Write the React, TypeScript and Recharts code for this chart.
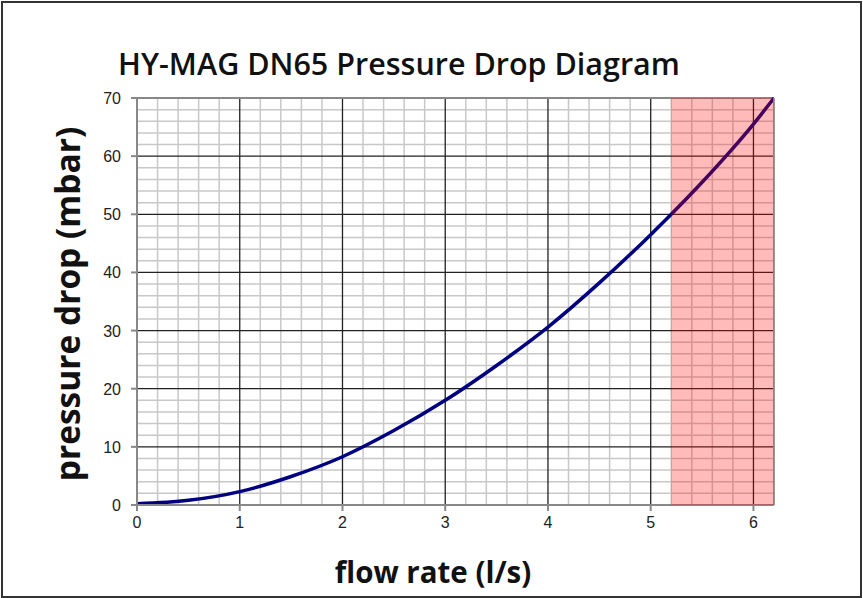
import React from "react";
import {
  LineChart,
  Line,
  XAxis,
  YAxis,
  ReferenceLine,
  ReferenceArea,
} from "recharts";

// flow rate (l/s) and pressure drop (mbar)
const flowRate = [0, 0.5, 1, 1.5, 2, 2.5, 3, 3.5, 4, 4.5, 5, 5.2, 5.5, 6, 6.2];
const pressureDrop = [0.2, 0.8, 2.3, 4.9, 8.3, 12.8, 18.0, 24.0, 30.6, 38.2, 46.5, 50.0, 55.5, 65.5, 70.0];

const xTicks = [0, 1, 2, 3, 4, 5, 6];
const yTicks = [0, 10, 20, 30, 40, 50, 60, 70];
const xMinor = [0.2, 0.4, 0.6, 0.8, 1.2, 1.4, 1.6, 1.8, 2.2, 2.4, 2.6, 2.8, 3.2, 3.4, 3.6, 3.8, 4.2, 4.4, 4.6, 4.8, 5.2, 5.4, 5.6, 5.8, 6.2];
const yMinor = [2, 4, 6, 8, 12, 14, 16, 18, 22, 24, 26, 28, 32, 34, 36, 38, 42, 44, 46, 48, 52, 54, 56, 58, 62, 64, 66, 68];

// recommended maximum range (shaded)
const limitStart = 5.2;
const limitEnd = 6.2;

const data = flowRate.map((q, i) => ({ q, p: pressureDrop[i] }));

const labelFont = "'Open Sans', 'Noto Sans', sans-serif";
const tickFont = "'Liberation Sans', Arial, sans-serif";

const XTick = ({ x, y, payload }: any) => (
  <text x={x} y={y + 17} textAnchor="middle" fontFamily={tickFont} fontSize={16} fill="#222">
    {payload.value}
  </text>
);

const YTick = ({ x, y, payload }: any) => (
  <text x={121} y={y + 6} textAnchor="end" fontFamily={tickFont} fontSize={16} fill="#222">
    {payload.value}
  </text>
);

export default function App() {
  return (
    <div style={{ position: "absolute", left: 0, top: 0, width: 863, height: 598, background: "#fff" }}>
      <div
        style={{
          position: "absolute",
          left: 1,
          top: 1,
          width: 857,
          height: 593,
          border: "2px solid #333",
        }}
      />
      <div
        style={{
          position: "absolute",
          left: 399,
          top: 63,
          transform: "translate(-50%, -50%)",
          whiteSpace: "nowrap",
          fontFamily: labelFont,
          fontWeight: 600,
          fontSize: 30.5,
          color: "#111",
        }}
      >
        HY-MAG DN65 Pressure Drop Diagram
      </div>
      <div
        style={{
          position: "absolute",
          left: 67,
          top: 304,
          transform: "translate(-50%, -50%) rotate(-90deg)",
          whiteSpace: "nowrap",
          fontFamily: labelFont,
          fontWeight: 700,
          fontSize: 33.5,
          color: "#111",
        }}
      >
        pressure drop (mbar)
      </div>
      <div
        style={{
          position: "absolute",
          left: 433,
          top: 571,
          transform: "translate(-50%, -50%)",
          whiteSpace: "nowrap",
          fontFamily: labelFont,
          fontWeight: 700,
          fontSize: 29.5,
          color: "#111",
        }}
      >
        flow rate (l/s)
      </div>
      <div style={{ position: "absolute", left: 0, top: 0 }}>
        <LineChart
          width={863}
          height={598}
          data={data}
          margin={{ top: 98, right: 89, bottom: 63, left: 0 }}
        >
          <XAxis
            dataKey="q"
            type="number"
            domain={[0, 6.2]}
            ticks={xTicks}
            allowDataOverflow
            height={30}
            tick={<XTick />}
            tickSize={6}
            tickMargin={0}
            stroke="#888"
            strokeWidth={2}
          />
          <YAxis
            type="number"
            domain={[0, 70]}
            ticks={yTicks}
            width={137}
            tick={<YTick />}
            tickSize={6}
            tickMargin={0}
            stroke="#888"
            strokeWidth={2}
          />
          {xMinor.map((v) => (
            <ReferenceLine key={`xm-${v}`} x={v} stroke="#c8c8c8" strokeWidth={1.5} />
          ))}
          {yMinor.map((v) => (
            <ReferenceLine key={`ym-${v}`} y={v} stroke="#c8c8c8" strokeWidth={1.5} />
          ))}
          {xTicks.slice(1).map((v) => (
            <ReferenceLine key={`xM-${v}`} x={v} stroke="#222" strokeWidth={1.3} />
          ))}
          {yTicks.slice(1, -1).map((v) => (
            <ReferenceLine key={`yM-${v}`} y={v} stroke="#222" strokeWidth={1.3} />
          ))}
          <ReferenceLine y={70} stroke="#888" strokeWidth={2} />
          <Line
            type="monotone"
            dataKey="p"
            stroke="#000080"
            strokeWidth={3.5}
            dot={false}
            isAnimationActive={false}
          />
          <ReferenceArea
            x1={limitStart}
            x2={limitEnd}
            y1={0}
            y2={70}
            fill="#ff0000"
            fillOpacity={0.27}
            stroke="none"
            zIndex={1000}
          />
          <ReferenceLine x={6.2} stroke="#999" strokeWidth={2} />
        </LineChart>
      </div>
    </div>
  );
}
